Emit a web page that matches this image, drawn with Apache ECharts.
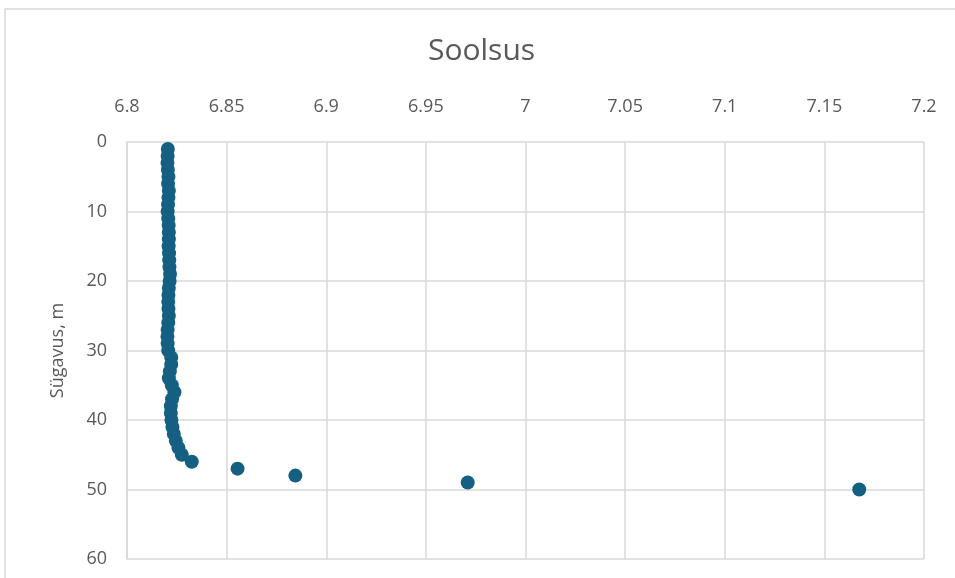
<!DOCTYPE html>
<html>
<head>
<meta charset="utf-8">
<script src="https://cdn.jsdelivr.net/npm/echarts@6/dist/echarts.min.js"></script>
<style>
  html, body { margin: 0; padding: 0; background: #fff; }
  #chart { width: 955px; height: 578px; }
</style>
</head>
<body>
<div id="chart"></div>
<script>
// sügavus (m) ja soolsus
const depths = [
  1, 2, 3, 4, 5, 6, 7, 8, 9, 10,
  11, 12, 13, 14, 15, 16, 17, 18, 19, 20,
  21, 22, 23, 24, 25, 26, 27, 28, 29, 30,
  31, 32, 33, 34, 35, 36, 37, 38, 39, 40,
  41, 42, 43, 44, 45, 46, 47, 48, 49, 50
];
const salinity = [
  6.8205, 6.8204, 6.8203, 6.8205, 6.8208, 6.8206, 6.8210, 6.8208, 6.8206, 6.8204,
  6.8207, 6.8209, 6.8210, 6.8210, 6.8209, 6.8211, 6.8212, 6.8213, 6.8216, 6.8214,
  6.8210, 6.8208, 6.8207, 6.8208, 6.8210, 6.8207, 6.8204, 6.8203, 6.8204, 6.8207,
  6.8222, 6.8222, 6.8215, 6.8210, 6.8225, 6.8238, 6.8226, 6.8220, 6.8220, 6.8223,
  6.8228, 6.8235, 6.8245, 6.8258, 6.8275, 6.8325, 6.8555, 6.8845, 6.9710, 7.1675
];
const xTicks = [6.8, 6.85, 6.9, 6.95, 7, 7.05, 7.1, 7.15, 7.2];

const points = depths.map((d, i) => [salinity[i], d]);
const font = 'Open Sans';
const textColor = '#595959';
const gridColor = '#d9d9d9';

const chart = echarts.init(document.getElementById('chart'));
chart.setOption({
  animation: false,
  backgroundColor: '#fff',
  graphic: [{
    type: 'rect',
    shape: { x: 5, y: 9, width: 960, height: 580 },
    style: { fill: 'none', stroke: gridColor, lineWidth: 1.5 },
    silent: true
  }],
  title: {
    text: 'Soolsus',
    left: 423,
    top: 31,
    textStyle: { fontFamily: font, fontSize: 30, fontWeight: 'normal', color: textColor }
  },
  grid: { left: 127, top: 142, width: 797, height: 417 },
  xAxis: {
    type: 'value',
    position: 'top',
    min: 6.8,
    max: 7.2,
    interval: 0.05,
    axisLine: { show: false },
    axisTick: { show: false },
    axisLabel: {
      margin: 26,
      fontFamily: font,
      fontSize: 18,
      color: textColor,
      formatter: v => {
        const t = xTicks.find(x => Math.abs(x - v) < 1e-6);
        return t === undefined ? '' : String(t);
      }
    },
    splitLine: { show: true, lineStyle: { color: gridColor, width: 1.5 } }
  },
  yAxis: {
    type: 'value',
    inverse: true,
    min: 0,
    max: 60,
    interval: 10,
    name: 'Sügavus, m',
    nameLocation: 'middle',
    nameGap: 60,
    nameTextStyle: { fontFamily: font, fontSize: 18, color: textColor },
    axisLine: { show: true, lineStyle: { color: gridColor, width: 1.5 } },
    axisTick: { show: false },
    axisLabel: { margin: 20, fontFamily: font, fontSize: 18, color: textColor },
    splitLine: { show: true, lineStyle: { color: gridColor, width: 1.5 } }
  },
  series: [{
    type: 'scatter',
    data: points,
    symbol: 'circle',
    symbolSize: 14,
    itemStyle: { color: '#156082', opacity: 1 }
  }]
});
</script>
</body>
</html>
